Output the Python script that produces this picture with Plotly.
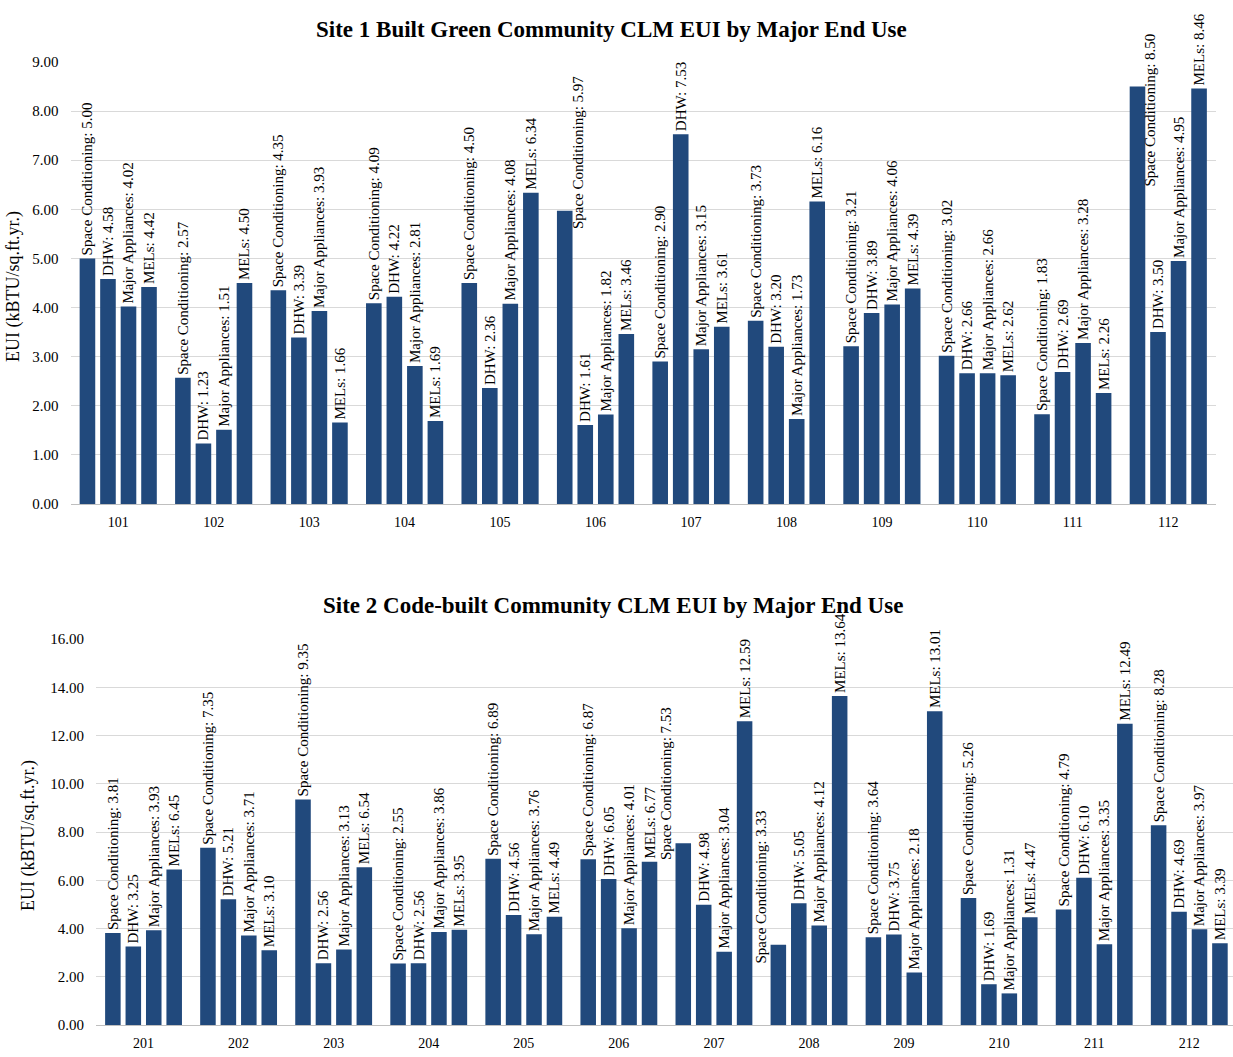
import plotly.graph_objects as go

# ---- data -------------------------------------------------------------
end_uses = ["Space Conditioning", "DHW", "Major Appliances", "MELs"]

site1_homes = ["101", "102", "103", "104", "105", "106",
               "107", "108", "109", "110", "111", "112"]
site1_space = [5.00, 2.57, 4.35, 4.09, 4.50, 5.97, 2.90, 3.73, 3.21, 3.02, 1.83, 8.50]
site1_dhw = [4.58, 1.23, 3.39, 4.22, 2.36, 1.61, 7.53, 3.20, 3.89, 2.66, 2.69, 3.50]
site1_major = [4.02, 1.51, 3.93, 2.81, 4.08, 1.82, 3.15, 1.73, 4.06, 2.66, 3.28, 4.95]
site1_mels = [4.42, 4.50, 1.66, 1.69, 6.34, 3.46, 3.61, 6.16, 4.39, 2.62, 2.26, 8.46]

site2_homes = ["201", "202", "203", "204", "205", "206",
               "207", "208", "209", "210", "211", "212"]
site2_space = [3.81, 7.35, 9.35, 2.55, 6.89, 6.87, 7.53, 3.33, 3.64, 5.26, 4.79, 8.28]
site2_dhw = [3.25, 5.21, 2.56, 2.56, 4.56, 6.05, 4.98, 5.05, 3.75, 1.69, 6.10, 4.69]
site2_major = [3.93, 3.71, 3.13, 3.86, 3.76, 4.01, 3.04, 4.12, 2.18, 1.31, 3.35, 3.97]
site2_mels = [6.45, 3.10, 6.54, 3.95, 4.49, 6.77, 12.59, 13.64, 13.01, 4.47, 12.49, 3.39]

site1_title = "Site 1 Built Green Community CLM EUI by Major End Use"
site2_title = "Site 2 Code-built Community CLM EUI by Major End Use"
y_title = "EUI (kBTU/sq.ft.yr.)"

# ---- style ------------------------------------------------------------
W, H = 1233, 1057
BAR = "#21497C"
GRID = "#D9D9D9"
AXIS = "#BFBFBF"
SERIF = "Liberation Serif"
LABEL_SIZE = 15
BARGAP, BARGROUPGAP = 0.14, 0.24

# plot areas in pixels: (left, right, top, bottom)
panels = {
    1: dict(px=(70.5, 1216.0, 62.0, 504.0), xr=[-0.5, 11.5], yr=[0, 9], dtick=1),
    2: dict(px=(96.0, 1233.0, 639.0, 1025.0), xr=[-0.5, 11.46], yr=[0, 16], dtick=2),
}

# labels that sit beside their bar instead of on top of it:
# (panel, home, end use) -> (horizontal nudge px, vertical nudge px of label base)
label_nudges = {
    (1, "106", "Space Conditioning"): (14, -20),
    (1, "112", "Space Conditioning"): (13, -102),
    (2, "207", "Space Conditioning"): (-17, -19),
    (2, "208", "Space Conditioning"): (-17, -21),
}

sites = {
    1: (site1_homes, [site1_space, site1_dhw, site1_major, site1_mels]),
    2: (site2_homes, [site2_space, site2_dhw, site2_major, site2_mels]),
}

fig = go.Figure()
annotations = []

for p, (homes, series) in sites.items():
    cfg = panels[p]
    left, right, top, bottom = cfg["px"]
    xa = "x" if p == 1 else "x2"
    ya = "y" if p == 1 else "y2"
    cat_px = (right - left) / (cfg["xr"][1] - cfg["xr"][0])
    slot_px = cat_px * (1 - BARGAP) / len(end_uses)
    for i, (use, vals) in enumerate(zip(end_uses, series)):
        texts, positions = [], []
        for k, (home, v) in enumerate(zip(homes, vals)):
            key = (p, home, use)
            if key in label_nudges:
                texts.append("")
                positions.append("none")
                dx, dy = label_nudges[key]
                annotations.append(dict(
                    x=k, y=v, xref=xa, yref=ya,
                    xshift=(i - 1.5) * slot_px + dx, yshift=dy,
                    text=f"{use}: {v:.2f}", textangle=-90, showarrow=False,
                    xanchor="center", yanchor="bottom",
                    font=dict(family=SERIF, size=LABEL_SIZE, color="black"),
                ))
            else:
                texts.append(f"{use}: {v:.2f}")
                positions.append("outside")
        fig.add_trace(go.Bar(
            x=homes, y=vals, name=use, xaxis=xa, yaxis=ya,
            marker=dict(color=BAR, line=dict(width=0)),
            text=texts, textposition=positions, textangle=-90,
            textfont=dict(family=SERIF, size=LABEL_SIZE, color="black"),
            constraintext="none", cliponaxis=False, showlegend=False,
            hovertemplate="%{x}<br>" + use + ": %{y:.2f}<extra></extra>",
        ))

def axis_pair(p):
    left, right, top, bottom = panels[p]["px"]
    cfg = panels[p]
    xaxis = dict(
        domain=[left / W, min(right / W, 1.0)], range=cfg["xr"], type="category",
        showline=True, linecolor=AXIS, linewidth=1, ticks="", showgrid=False,
        tickfont=dict(family=SERIF, size=14, color="black"), ticklabelstandoff=5,
        anchor="y" if p == 1 else "y2", fixedrange=True, automargin=False,
    )
    yaxis = dict(
        domain=[1 - bottom / H, 1 - top / H], range=cfg["yr"], dtick=cfg["dtick"],
        tickformat=".2f", showgrid=True, gridcolor=GRID, gridwidth=1,
        zeroline=False, showline=False, ticks="",
        tickfont=dict(family=SERIF, size=15, color="black"), ticklabelstandoff=11,
        anchor="x" if p == 1 else "x2", fixedrange=True, automargin=False,
    )
    return xaxis, yaxis

x1, y1 = axis_pair(1)
x2, y2 = axis_pair(2)

# chart titles and y-axis titles
annotations += [
    dict(text=f"<b>{site1_title}</b>", x=611.5 / W, y=1 - 30 / H, xref="paper", yref="paper",
         showarrow=False, xanchor="center", yanchor="middle",
         font=dict(family=SERIF, size=23, color="black")),
    dict(text=f"<b>{site2_title}</b>", x=612.5 / W, y=1 - 605 / H, xref="paper", yref="paper",
         showarrow=False, xanchor="center", yanchor="middle",
         font=dict(family=SERIF, size=23, color="black")),
    dict(text=y_title, x=13 / W, y=1 - 287 / H, xref="paper", yref="paper",
         showarrow=False, textangle=-90, xanchor="center", yanchor="middle",
         font=dict(family=SERIF, size=18, color="black")),
    dict(text=y_title, x=28 / W, y=1 - 836 / H, xref="paper", yref="paper",
         showarrow=False, textangle=-90, xanchor="center", yanchor="middle",
         font=dict(family=SERIF, size=18, color="black")),
]

fig.update_layout(
    width=W, height=H, margin=dict(l=0, r=0, t=0, b=0, autoexpand=False),
    paper_bgcolor="white", plot_bgcolor="white",
    barmode="group", bargap=BARGAP, bargroupgap=BARGROUPGAP,
    xaxis=x1, yaxis=y1, xaxis2=x2, yaxis2=y2,
    annotations=annotations, showlegend=False,
    font=dict(family=SERIF, color="black"),
)

fig.write_html("out.html")
